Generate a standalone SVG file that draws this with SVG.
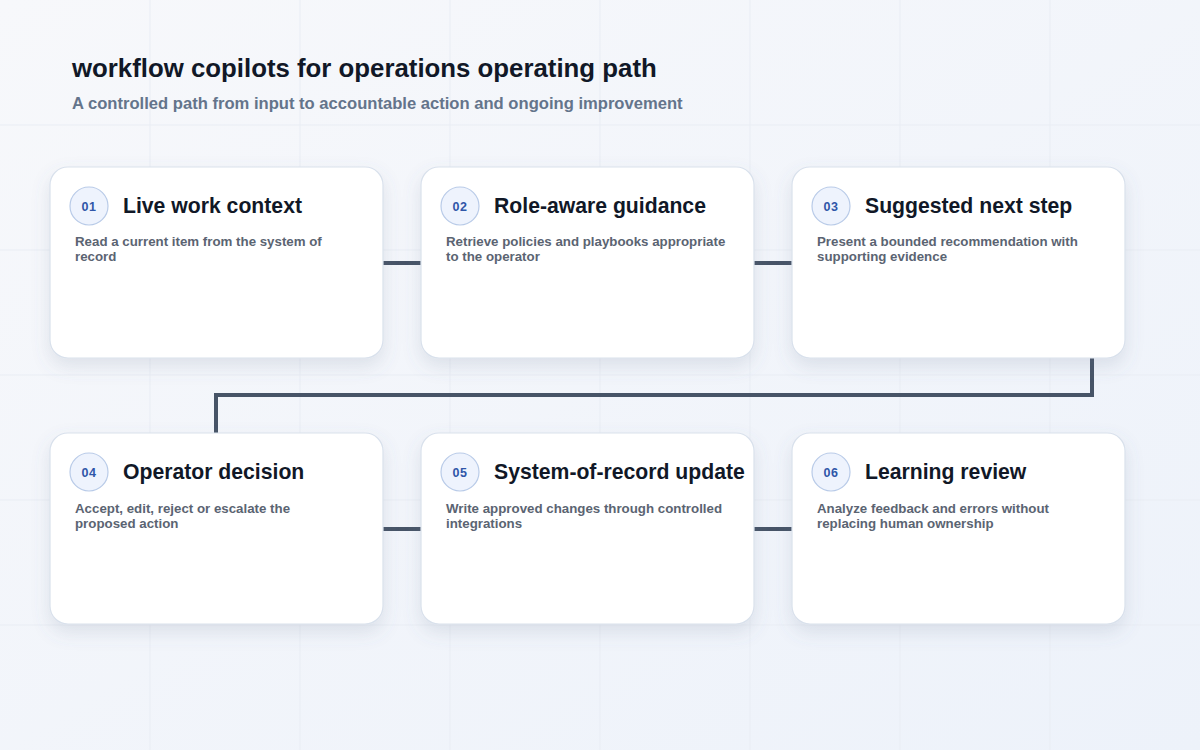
<svg xmlns="http://www.w3.org/2000/svg" width="1200" height="750" viewBox="0 0 1200 750">
<defs>
<linearGradient id="bg" x1="0" y1="0" x2="1" y2="1">
<stop offset="0" stop-color="#f7f8fb"/>
<stop offset="1" stop-color="#edf2fa"/>
</linearGradient>
<filter id="sh" x="-20%" y="-20%" width="140%" height="150%">
<feDropShadow dx="0" dy="8" stdDeviation="9" flood-color="#64748b" flood-opacity="0.16"/>
</filter>
</defs>
<style>
.t{font-family:"Liberation Sans",Arial,sans-serif;font-weight:bold}
.title{font-size:25.8px;fill:#111827}
.sub{font-size:16.6px;fill:#64748b}
.card{fill:#ffffff;stroke:#d9e1ec;stroke-width:1.2;filter:url(#sh)}
.badge{fill:#eef3fd;stroke:#b9cbe8;stroke-width:1.2}
.num{font-size:12.5px;fill:#2f56a8;text-anchor:middle;letter-spacing:0.5px}
.head{font-size:21.2px;fill:#111827}
.desc{font-size:13.3px;fill:#5b6472}
.grid{stroke:#e9edf4;stroke-width:1}
.conn{fill:none;stroke:#475467;stroke-width:4;stroke-linejoin:miter}
</style>
<rect width="1200" height="750" fill="url(#bg)"/>
<g id="grid" class="grid">
<line x1="150" y1="0" x2="150" y2="750"/><line x1="300" y1="0" x2="300" y2="750"/>
<line x1="450" y1="0" x2="450" y2="750"/><line x1="600" y1="0" x2="600" y2="750"/>
<line x1="750" y1="0" x2="750" y2="750"/><line x1="900" y1="0" x2="900" y2="750"/>
<line x1="1050" y1="0" x2="1050" y2="750"/>
<line x1="0" y1="125" x2="1200" y2="125"/><line x1="0" y1="250" x2="1200" y2="250"/>
<line x1="0" y1="375" x2="1200" y2="375"/><line x1="0" y1="500" x2="1200" y2="500"/>
<line x1="0" y1="625" x2="1200" y2="625"/>
</g>
<text class="t title" x="72" y="77">workflow copilots for operations operating path</text>
<text class="t sub" x="72" y="109">A controlled path from input to accountable action and ongoing improvement</text>
<g id="connectors">
<line class="conn" x1="383" y1="263" x2="421" y2="263"/>
<line class="conn" x1="754" y1="263" x2="792" y2="263"/>
<polyline class="conn" points="1092,358 1092,395 216,395 216,433"/>
<line class="conn" x1="383" y1="529" x2="421" y2="529"/>
<line class="conn" x1="754" y1="529" x2="792" y2="529"/>
</g>
<g id="n1">
<rect class="card" x="50" y="167" width="333" height="191" rx="18"/>
<circle class="badge" cx="89" cy="206" r="19"/>
<text class="t num" x="89" y="210.5">01</text>
<text class="t head" x="123" y="213">Live work context</text>
<text class="t desc" x="75" y="246">Read a current item from the system of</text>
<text class="t desc" x="75" y="261">record</text>
</g>
<g id="n2">
<rect class="card" x="421" y="167" width="333" height="191" rx="18"/>
<circle class="badge" cx="460" cy="206" r="19"/>
<text class="t num" x="460" y="210.5">02</text>
<text class="t head" x="494" y="213">Role-aware guidance</text>
<text class="t desc" x="446" y="246">Retrieve policies and playbooks appropriate</text>
<text class="t desc" x="446" y="261">to the operator</text>
</g>
<g id="n3">
<rect class="card" x="792" y="167" width="333" height="191" rx="18"/>
<circle class="badge" cx="831" cy="206" r="19"/>
<text class="t num" x="831" y="210.5">03</text>
<text class="t head" x="865" y="213">Suggested next step</text>
<text class="t desc" x="817" y="246">Present a bounded recommendation with</text>
<text class="t desc" x="817" y="261">supporting evidence</text>
</g>
<g id="n4">
<rect class="card" x="50" y="433" width="333" height="191" rx="18"/>
<circle class="badge" cx="89" cy="472" r="19"/>
<text class="t num" x="89" y="476.5">04</text>
<text class="t head" x="123" y="479">Operator decision</text>
<text class="t desc" x="75" y="513">Accept, edit, reject or escalate the</text>
<text class="t desc" x="75" y="528">proposed action</text>
</g>
<g id="n5">
<rect class="card" x="421" y="433" width="333" height="191" rx="18"/>
<circle class="badge" cx="460" cy="472" r="19"/>
<text class="t num" x="460" y="476.5">05</text>
<text class="t head" x="494" y="479">System-of-record update</text>
<text class="t desc" x="446" y="513">Write approved changes through controlled</text>
<text class="t desc" x="446" y="528">integrations</text>
</g>
<g id="n6">
<rect class="card" x="792" y="433" width="333" height="191" rx="18"/>
<circle class="badge" cx="831" cy="472" r="19"/>
<text class="t num" x="831" y="476.5">06</text>
<text class="t head" x="865" y="479">Learning review</text>
<text class="t desc" x="817" y="513">Analyze feedback and errors without</text>
<text class="t desc" x="817" y="528">replacing human ownership</text>
</g>
</svg>
